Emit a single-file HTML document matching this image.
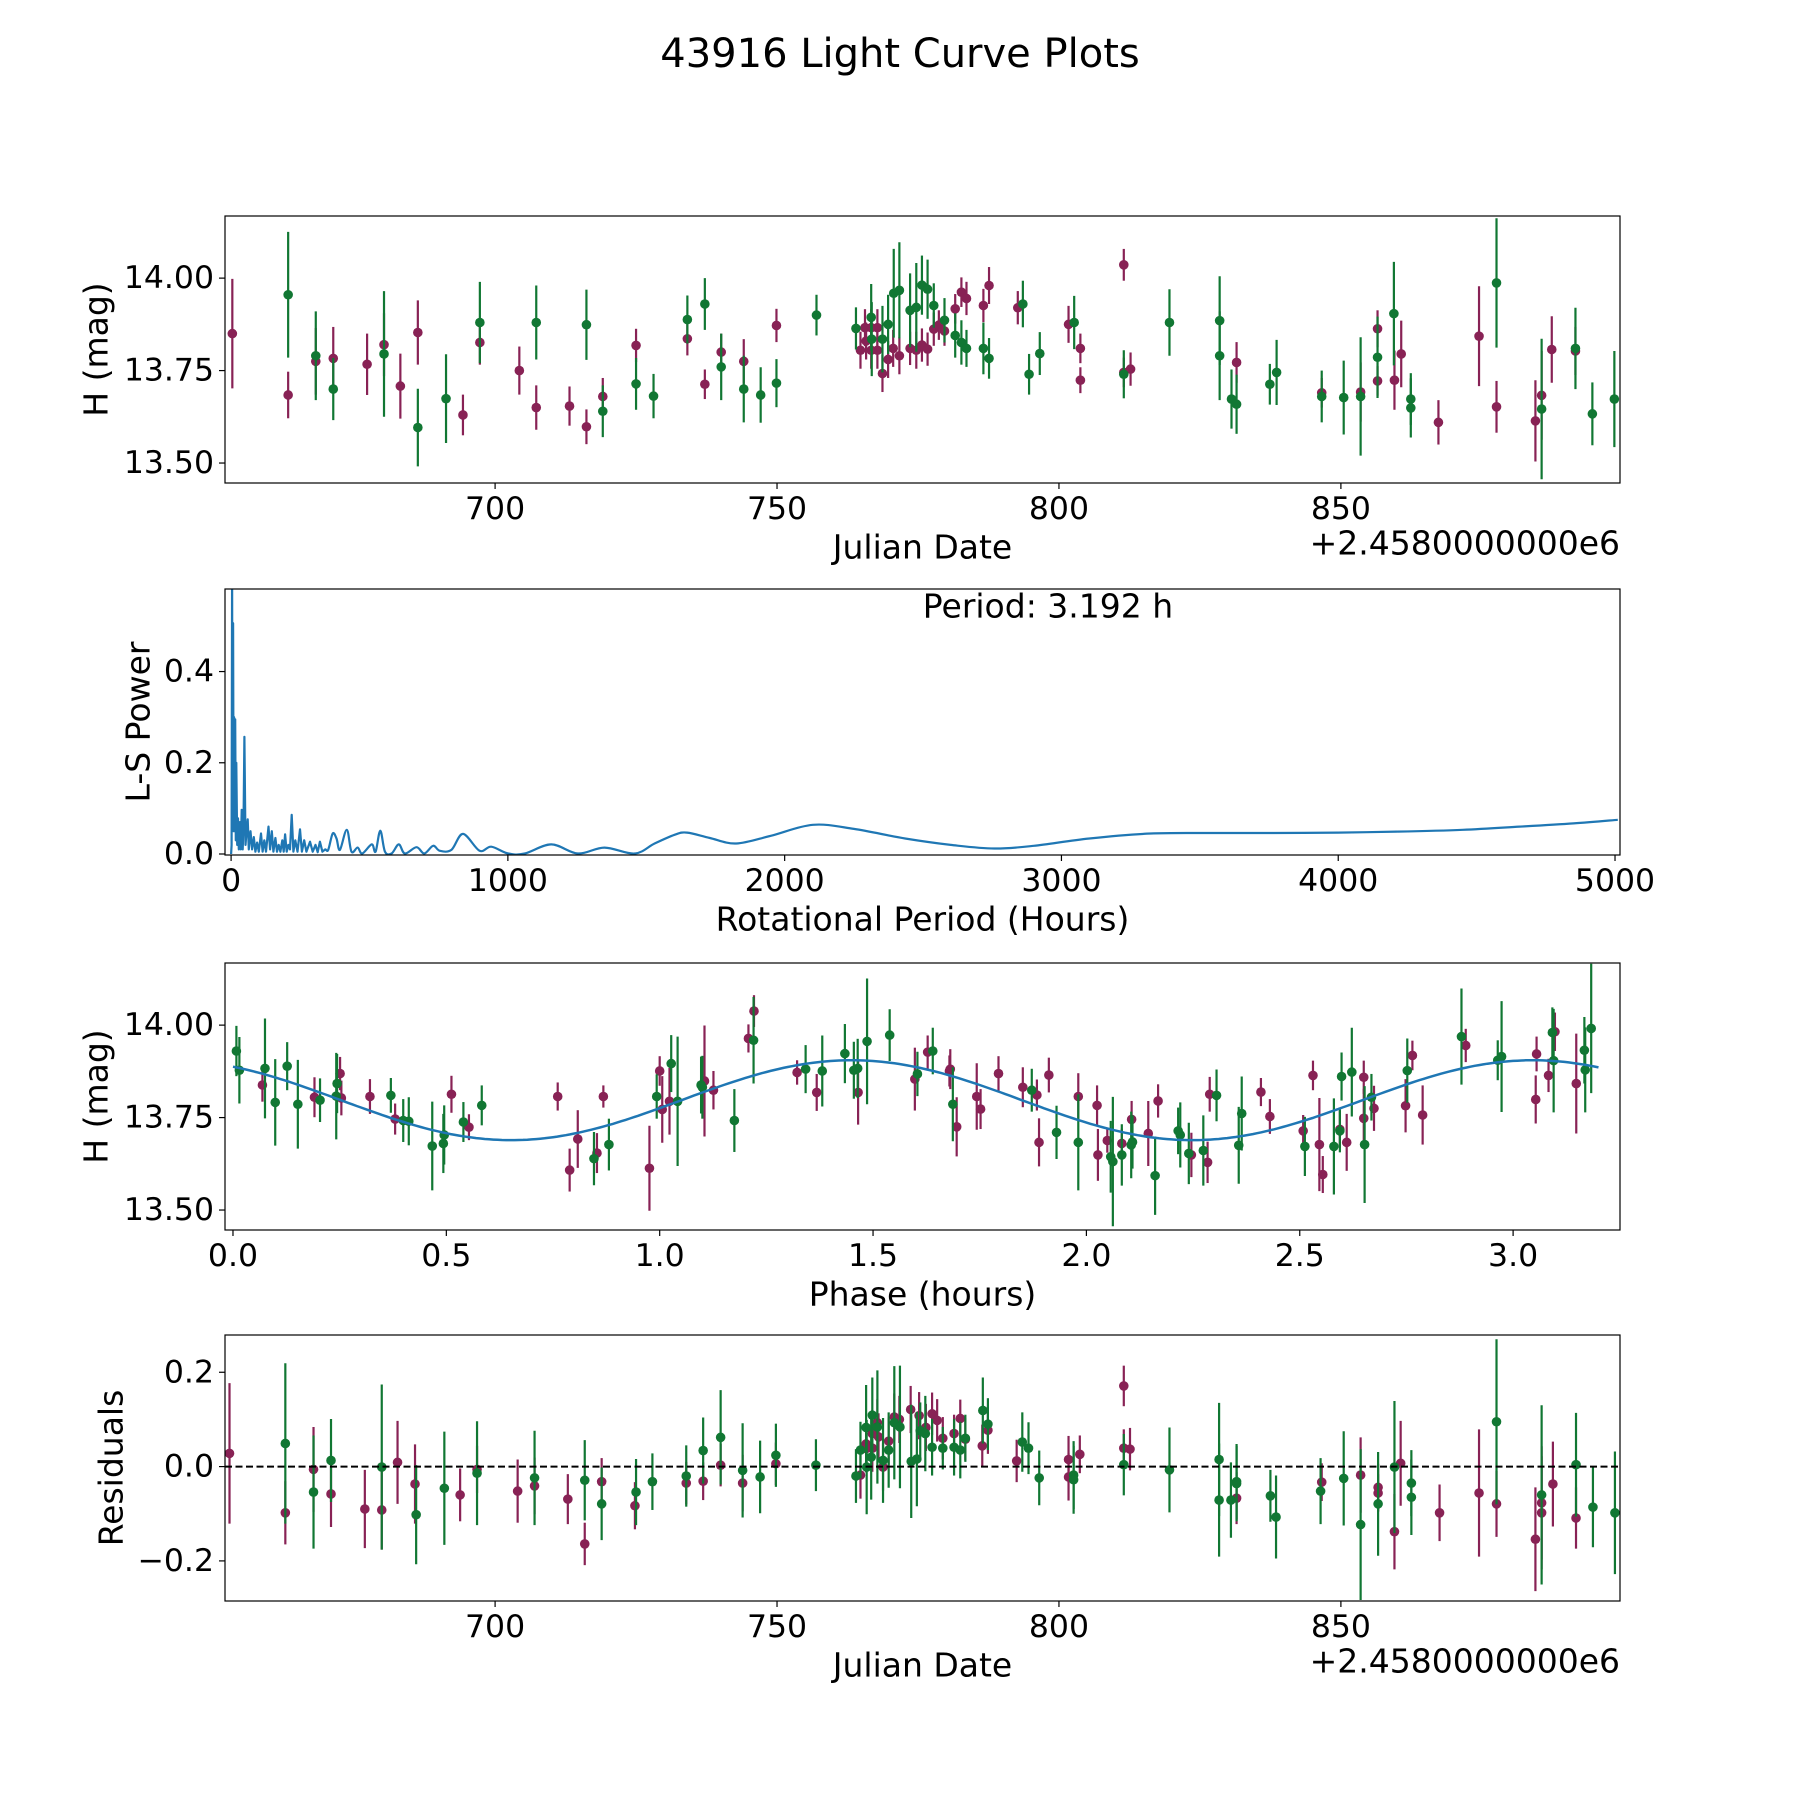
<!DOCTYPE html>
<html><head><meta charset="utf-8"><title>43916 Light Curve Plots</title>
<style>html,body{margin:0;padding:0;background:#fff}svg{display:block}text{font-family:"DejaVu Sans","Liberation Sans",sans-serif;fill:#000}</style>
</head><body>
<svg id="fig" width="1800" height="1800" viewBox="0 0 1800 1800" xmlns="http://www.w3.org/2000/svg">
<rect width="1800" height="1800" fill="#fff"/>
<text x="900" y="54" font-size="40" text-anchor="middle" dominant-baseline="central">43916 Light Curve Plots</text>
</svg>
<script>
// ---- Panel 1: light curve (date, mag, err) ----
const lcGreenDate=[663.3,668.2,671.3,680.3,686.3,691.3,697.3,707.3,716.2,719.1,725.0,728.1,734.1,737.2,740.1,744.1,747.1,749.9,757.0,764.0,766.7,766.8,768.7,769.7,770.7,771.7,773.6,774.7,775.7,776.7,777.8,779.7,781.6,782.7,783.6,786.6,787.6,793.6,794.7,796.6,802.7,811.5,819.6,828.5,828.5,830.6,831.5,837.4,838.6,846.6,850.5,853.5,856.5,859.4,862.4,862.4,877.6,885.6,891.6,894.6,898.5];
const lcGreenMag=[13.955,13.79,13.70,13.795,13.596,13.674,13.88,13.88,13.874,13.64,13.714,13.681,13.888,13.93,13.76,13.70,13.684,13.716,13.90,13.864,13.894,13.835,13.835,13.875,13.959,13.967,13.913,13.921,13.981,13.97,13.926,13.886,13.845,13.826,13.81,13.81,13.783,13.93,13.74,13.796,13.88,13.74,13.88,13.885,13.79,13.673,13.659,13.713,13.745,13.68,13.677,13.68,13.786,13.904,13.673,13.649,13.987,13.646,13.81,13.633,13.673];
const lcGreenErr=[.17,.12,.084,.17,.105,.12,.11,.1,.095,.07,.07,.06,.065,.07,.09,.09,.075,.065,.055,.057,.09,.1,.09,.08,.12,.13,.1,.12,.08,.08,.06,.06,.06,.06,.05,.07,.055,.063,.055,.058,.072,.065,.09,.12,.12,.08,.08,.055,.088,.07,.1,.16,.11,.14,.07,.08,.175,.19,.11,.085,.13];
const lcPurpleDate=[653.4,663.3,668.2,671.3,677.3,680.3,683.2,686.3,694.3,697.3,704.3,707.3,713.2,716.2,719.1,725.0,734.1,737.2,740.1,744.1,749.9,764.8,765.6,765.8,766.7,766.7,767.8,767.8,768.7,769.7,770.6,771.7,773.6,774.7,775.7,776.7,777.8,778.7,779.7,781.6,782.7,783.6,786.6,787.6,792.7,801.7,803.8,803.8,811.5,811.5,812.7,831.5,846.6,853.5,856.5,856.5,859.5,860.7,867.3,874.5,877.6,884.5,885.6,887.4,891.6];
const lcPurpleMag=[13.85,13.684,13.775,13.783,13.767,13.82,13.708,13.853,13.63,13.826,13.75,13.65,13.654,13.598,13.68,13.818,13.836,13.713,13.80,13.775,13.872,13.805,13.866,13.83,13.866,13.805,13.866,13.805,13.742,13.78,13.81,13.79,13.81,13.805,13.819,13.808,13.862,13.873,13.857,13.917,13.962,13.945,13.926,13.98,13.92,13.875,13.81,13.724,14.036,13.745,13.754,13.772,13.69,13.692,13.863,13.722,13.724,13.795,13.61,13.843,13.652,13.614,13.683,13.807,13.803];
const lcPurpleErr=[.148,.063,.09,.085,.083,.085,.088,.087,.055,.06,.065,.06,.053,.047,.05,.045,.045,.04,.05,.06,.045,.05,.05,.05,.05,.05,.05,.05,.05,.05,.05,.05,.045,.05,.045,.045,.045,.04,.04,.04,.04,.045,.045,.05,.045,.05,.04,.035,.043,.04,.045,.055,.04,.08,.05,.04,.08,.09,.06,.135,.07,.11,.12,.09,.065];
const lcXTicks=[700,750,800,850];
const magTicks=[13.5,13.75,14.0];
const magTickLabels=["13.50","13.75","14.00"];

// ---- Panel 2: periodogram ----
const lsPeriod=[0,2,3.6,5,7.2,9,11,13,15,17,19,22,25,28,32,35,38.5,42,45,48,52,56,60,64,70,76,82,88,94,100,108,114,120,126,135,141,147,153,160,166,172,178,185,190,195,201,207,213,219,225,232,240,249,256,264,272,285,295,305,313,321,330,340,351,367,381,393,418,435,457,474,508,522,539,556,580,606,628,670,698,730,754,796,838,898,940,1001,1061,1157,1253,1349,1458,1530,1602,1647,1730,1825,1950,2102,2250,2435,2600,2757,2900,3101,3323,3550,3767,4000,4211,4450,4655,4850,5010];
const lsPower=[0.0,0.02,0.62,0.1,0.506,0.05,0.3,0.05,0.295,0.03,0.2,0.02,0.078,0.01,0.07,0.01,0.097,0.01,0.06,0.257,0.02,0.05,0.076,0.01,0.05,0.01,0.037,0.005,0.025,0.005,0.045,0.005,0.03,0.005,0.06,0.01,0.05,0.005,0.035,0.005,0.02,0.005,0.03,0.005,0.043,0.005,0.02,0.01,0.086,0.005,0.03,0.005,0.054,0.005,0.03,0.005,0.027,0.005,0.02,0.004,0.027,0.005,0.01,0.009,0.045,0.034,0.009,0.053,0.005,0.014,0.001,0.021,0.005,0.051,0.005,0.001,0.021,0.001,0.015,0.001,0.018,0.007,0.009,0.044,0.007,0.016,0.001,0.001,0.021,0.001,0.014,0.001,0.023,0.042,0.047,0.035,0.023,0.04,0.064,0.055,0.034,0.02,0.012,0.018,0.034,0.045,0.046,0.046,0.047,0.049,0.053,0.06,0.067,0.075];
const lsXTicks=[0,1000,2000,3000,4000,5000];
const lsYTicks=[0.0,0.2,0.4];
const lsYTickLabels=["0.0","0.2","0.4"];
const periodText="Period: 3.192 h";

// ---- Panel 3: phased curve ----
const phGreenPhase=[0.008,0.015,0.075,0.099,0.127,0.152,0.204,0.242,0.244,0.37,0.399,0.412,0.467,0.493,0.495,0.54,0.583,0.846,0.881,0.993,1.027,1.042,1.097,1.1,1.175,1.22,1.342,1.381,1.434,1.455,1.464,1.486,1.539,1.604,1.64,1.687,1.872,1.93,1.981,2.057,2.062,2.083,2.105,2.108,2.161,2.215,2.22,2.24,2.274,2.305,2.357,2.364,2.512,2.58,2.594,2.598,2.622,2.652,2.668,2.752,2.879,2.964,2.973,3.092,3.095,3.167,3.169,3.183];
const phGreenMag=[13.930,13.878,13.883,13.791,13.889,13.786,13.797,13.808,13.842,13.81,13.742,13.740,13.673,13.680,13.703,13.738,13.783,13.639,13.677,13.807,13.896,13.794,13.838,13.832,13.742,13.959,13.881,13.876,13.923,13.878,13.883,13.956,13.973,13.868,13.930,13.786,13.824,13.71,13.683,13.644,13.631,13.649,13.676,13.684,13.593,13.714,13.703,13.653,13.661,13.81,13.675,13.761,13.672,13.672,13.714,13.861,13.873,13.677,13.805,13.877,13.969,13.905,13.915,13.98,13.904,13.932,13.879,13.991];
const phGreenErr=[.068,.09,.135,.117,.065,.12,.059,.117,.08,.047,.058,.065,.12,.08,.08,.054,.054,.072,.07,.06,.077,.175,.077,.085,.085,.117,.065,.096,.08,.077,.08,.17,.07,.06,.063,.1,.058,.072,.13,.097,.175,.083,.09,.072,.106,.063,.088,.083,.095,.07,.104,.1,.08,.13,.058,.065,.12,.158,.063,.087,.13,.054,.15,.068,.14,.09,.115,.175];
const phPurplePhase=[0.069,0.191,0.251,0.254,0.321,0.38,0.512,0.553,0.761,0.789,0.808,0.853,0.868,0.976,1.0,1.006,1.023,1.105,1.126,1.208,1.221,1.322,1.368,1.465,1.598,1.628,1.679,1.681,1.696,1.743,1.752,1.794,1.851,1.884,1.889,1.912,1.981,2.025,2.027,2.049,2.083,2.106,2.145,2.168,2.246,2.284,2.289,2.409,2.43,2.508,2.531,2.546,2.554,2.594,2.61,2.65,2.65,2.674,2.748,2.764,2.788,2.889,3.053,3.055,3.083,3.098,3.148];
const phPurpleMag=[13.838,13.805,13.869,13.803,13.807,13.746,13.813,13.724,13.807,13.608,13.692,13.654,13.807,13.613,13.876,13.772,13.794,13.849,13.824,13.964,14.038,13.872,13.818,13.818,13.854,13.927,13.876,13.881,13.725,13.807,13.773,13.869,13.832,13.811,13.683,13.865,13.807,13.783,13.649,13.688,13.680,13.745,13.707,13.795,13.649,13.629,13.813,13.819,13.753,13.714,13.864,13.677,13.596,13.718,13.683,13.859,13.748,13.775,13.782,13.918,13.757,13.945,13.799,13.922,13.864,13.982,13.842];
const phPurpleErr=[.045,.054,.045,.047,.047,.042,.05,.035,.038,.058,.078,.054,.03,.115,.04,.09,.09,.15,.052,.038,.043,.033,.05,.087,.085,.045,.042,.054,.08,.09,.054,.047,.054,.042,.065,.047,.063,.054,.07,.033,.04,.05,.088,.045,.06,.056,.047,.038,.047,.043,.04,.126,.05,.05,.077,.045,.08,.061,.072,.04,.08,.045,.065,.047,.045,.052,.135];
const modelMean=[13.797];
const modelAmp=[0.108];
const modelPeakPhase=[1.45];
const modelHalfPeriod=[1.596];
const phXTicks=[0.0,0.5,1.0,1.5,2.0,2.5,3.0];
const phXTickLabels=["0.0","0.5","1.0","1.5","2.0","2.5","3.0"];

// ---- Panel 4: residuals ----
const rsGreenDate=[662.8,667.8,670.9,679.9,686.0,691.0,696.8,707.0,715.9,718.9,725.0,727.9,733.9,736.9,740.0,743.9,747.0,749.8,756.9,764.0,764.8,765.8,765.9,766.7,766.9,767.8,768.8,769.8,770.8,771.8,773.8,774.8,775.4,776.3,777.5,779.4,781.4,782.5,783.4,786.5,787.4,793.5,794.6,796.5,802.6,802.6,811.5,819.6,828.4,828.4,830.5,831.5,831.5,837.5,838.5,846.4,850.5,853.5,856.6,859.5,862.5,862.5,877.6,885.6,891.7,894.7,898.6];
const rsGreenRes=[.049,-.054,.013,-.001,-.102,-.046,-.014,-.024,-.029,-.079,-.054,-.032,-.02,.034,.062,-.008,-.022,.024,.003,-.02,.035,.083,-.001,.02,.109,.084,.013,.035,.093,.084,.011,.016,.076,.07,.041,.039,.041,.035,.06,.119,.09,.052,.039,-.024,-.018,-.028,.004,-.007,.015,-.071,-.071,-.032,-.036,-.062,-.107,-.052,-.025,-.123,-.079,-.001,-.035,-.065,.095,-.06,.004,-.086,-.098];
const rsGreenErr=[.17,.12,.088,.175,.105,.12,.11,.1,.085,.077,.07,.06,.065,.07,.1,.1,.077,.067,.055,.057,.06,.09,.1,.09,.08,.12,.09,.08,.12,.13,.12,.1,.06,.08,.06,.045,.06,.06,.05,.07,.055,.063,.055,.058,.072,.072,.065,.09,.12,.12,.08,.08,.08,.055,.088,.07,.1,.16,.11,.14,.07,.08,.175,.19,.11,.085,.13];
const rsPurpleDate=[652.9,662.8,667.8,670.9,676.9,679.9,682.7,685.8,693.8,696.8,704.0,707.0,712.9,715.9,718.9,724.8,733.9,736.9,740.0,743.9,749.8,764.8,765.8,765.8,766.9,766.9,767.8,768.0,768.8,769.8,770.8,771.7,773.7,775.2,776.4,777.5,778.4,779.4,781.4,782.5,783.4,786.4,787.4,792.5,801.7,801.7,803.7,811.5,811.5,812.6,831.5,846.6,853.5,856.6,856.6,859.5,860.6,867.5,874.5,877.6,884.5,885.6,885.6,887.6,891.7];
const rsPurpleRes=[.028,-.098,-.006,-.058,-.09,-.092,.009,-.037,-.06,-.006,-.052,-.041,-.069,-.164,-.032,-.083,-.035,-.031,.003,-.035,.006,-.018,.048,.038,.07,.039,.093,.063,-.001,.054,.105,.1,.121,.108,.083,.112,.098,.06,.07,.102,.058,.044,.077,.012,.015,-.022,.026,.171,.039,.037,-.067,-.033,-.018,-.044,-.056,-.138,.007,-.098,-.056,-.079,-.154,-.077,-.098,-.037,-.109];
const rsPurpleErr=[.149,.067,.09,.07,.083,.084,.088,.084,.056,.05,.067,.06,.053,.045,.05,.05,.045,.04,.045,.06,.045,.05,.05,.05,.05,.05,.05,.05,.05,.05,.05,.05,.05,.05,.05,.045,.045,.045,.04,.04,.045,.045,.05,.045,.05,.05,.04,.043,.04,.045,.055,.04,.08,.05,.04,.08,.09,.06,.135,.07,.11,.12,.12,.09,.065];
const rsYTicks=[-0.2,0.0,0.2];
const rsYTickLabels=["\u22120.2","0.0","0.2"];

const NS="http://www.w3.org/2000/svg";
const svg=document.getElementById('fig');
const GREEN="#117733",PURPLE="#882255",BLUE="#1f77b4";
const TICKFS=31.5,LABELFS=33;
function mk(tag,attrs,parent){const e=document.createElementNS(NS,tag);for(const k in attrs)e.setAttribute(k,attrs[k]);(parent||svg).appendChild(e);return e;}
function txt(s,attrs,parent){const t=mk('text',attrs,parent);t.textContent=s;return t;}
function axis(box,xmin,xmax,ymin,ymax){
  return {box:box,
    x:v=>box.l+(v-xmin)/(xmax-xmin)*(box.r-box.l),
    y:v=>box.b-(v-ymin)/(ymax-ymin)*(box.b-box.t)};
}
function frame(ax,name,xt,xtl,yt,ytl,xlabel,ylabel,ylabelX){
  const b=ax.box;
  const g=mk('g',{});
  
  
  xt.forEach((v,i)=>{const X=ax.x(v);
    const tk=mk('line',{x1:X,x2:X,y1:b.b,y2:b.b+6,stroke:'#000','stroke-width':1.2},g);
    
    
    const t=txt(xtl[i],{x:X,y:b.b+26,'font-size':TICKFS,'text-anchor':'middle','dominant-baseline':'central'},g);
    
    });
  yt.forEach((v,i)=>{const Y=ax.y(v);
    const tk=mk('line',{x1:b.l-6,x2:b.l,y1:Y,y2:Y,stroke:'#000','stroke-width':1.2},g);
    
    
    const t=txt(ytl[i],{x:b.l-11,y:Y,'font-size':TICKFS,'text-anchor':'end','dominant-baseline':'central'},g);
    
    });
  const xl=txt(xlabel,{x:(b.l+b.r)/2,y:b.b+64,'font-size':LABELFS,'text-anchor':'middle','dominant-baseline':'central'},g);
  
  
  const cy=(b.t+b.b)/2;
  const yl=txt(ylabel,{x:ylabelX,y:cy,'font-size':LABELFS,'text-anchor':'middle','dominant-baseline':'central',transform:'rotate(-90 '+ylabelX+' '+cy+')'},g);
  
  
  const r=mk('rect',{x:b.l,y:b.t,width:b.r-b.l,height:b.b-b.t,fill:'none',stroke:'#000','stroke-width':1.2},g);
  
  
  return g;
}
function clip(id,b){const c=mk('clipPath',{id:id});mk('rect',{x:b.l,y:b.t,width:b.r-b.l,height:b.b-b.t},c);}
function errpts(ax,g,xs,ys,es,color,name){
  for(let i=0;i<xs.length;i++){
    const X=ax.x(xs[i]),Y=ax.y(ys[i]);
    const ln=mk('line',{x1:X,x2:X,y1:ax.y(ys[i]-es[i]),y2:ax.y(ys[i]+es[i]),stroke:color,'stroke-width':2.2},g);
    
    
    const c=mk('circle',{cx:X,cy:Y,r:4.8,fill:color},g);
    
    
  }
}
const L=225,R=1620;
// Panel 1
const ax1=axis({l:L,r:R,t:216,b:483},652.1,899.5,13.446,14.168);
clip('c1',ax1.box);
const g1=mk('g',{'clip-path':'url(#c1)'});


errpts(ax1,g1,lcPurpleDate,lcPurpleMag,lcPurpleErr,PURPLE,'purple-filter');
errpts(ax1,g1,lcGreenDate,lcGreenMag,lcGreenErr,GREEN,'green-filter');
frame(ax1,'light-curve-panel',lcXTicks,lcXTicks.map(String),magTicks,magTickLabels,'Julian Date','H (mag)',96);
const off1=txt('+2.4580000000e6',{x:R,y:543,'font-size':LABELFS,'text-anchor':'end','dominant-baseline':'central'});


// Panel 2
const ax2=axis({l:L,r:R,t:589,b:855},-22,5018,-0.0022,0.581);
clip('c2',ax2.box);
const g2=mk('g',{'clip-path':'url(#c2)'});


// polyline for noisy part, Catmull-Rom smoothing for long-period part
const P=lsPeriod.map((p,i)=>[ax2.x(p),ax2.y(lsPower[i])]);
let d='M'+P[0][0].toFixed(1)+' '+P[0][1].toFixed(1);
for(let i=1;i<P.length;i++){
  if(lsPeriod[i]<=340){d+='L'+P[i][0].toFixed(1)+' '+P[i][1].toFixed(1);continue;}
  const p0=P[Math.max(i-2,0)],p1=P[i-1],p2=P[i],p3=P[Math.min(i+1,P.length-1)];
  const c1x=p1[0]+(p2[0]-p0[0])/6,c1y=p1[1]+(p2[1]-p0[1])/6;
  const c2x=p2[0]-(p3[0]-p1[0])/6,c2y=p2[1]-(p3[1]-p1[1])/6;
  d+='C'+c1x.toFixed(1)+' '+c1y.toFixed(1)+' '+c2x.toFixed(1)+' '+c2y.toFixed(1)+' '+p2[0].toFixed(1)+' '+p2[1].toFixed(1);
}
const pl=mk('path',{d:d,fill:'none',stroke:BLUE,'stroke-width':2.2,'stroke-linejoin':'round'},g2);


frame(ax2,'periodogram-panel',lsXTicks,lsXTicks.map(String),lsYTicks,lsYTickLabels,'Rotational Period (Hours)','L-S Power',138);
const pt=txt(periodText,{x:1048,y:606,'font-size':LABELFS,'text-anchor':'middle','dominant-baseline':'central'});


// Panel 3
const ax3=axis({l:L,r:R,t:963,b:1230},-0.0187,3.2505,13.446,14.168);
clip('c3',ax3.box);
const g3=mk('g',{'clip-path':'url(#c3)'});


errpts(ax3,g3,phPurplePhase,phPurpleMag,phPurpleErr,PURPLE,'purple-filter');
errpts(ax3,g3,phGreenPhase,phGreenMag,phGreenErr,GREEN,'green-filter');
let dm='';for(let i=0;i<=320;i++){const p=i*0.01;const m=modelMean[0]+modelAmp[0]*Math.cos(2*Math.PI*(p-modelPeakPhase[0])/modelHalfPeriod[0]);dm+=(i?'L':'M')+ax3.x(p).toFixed(1)+' '+ax3.y(m).toFixed(1);}
const ml=mk('path',{d:dm,fill:'none',stroke:BLUE,'stroke-width':2.5},g3);


frame(ax3,'phased-panel',phXTicks,phXTickLabels,magTicks,magTickLabels,'Phase (hours)','H (mag)',96);
// Panel 4
const ax4=axis({l:L,r:R,t:1335,b:1601},652.1,899.5,-0.285,0.279);
clip('c4',ax4.box);
const g4=mk('g',{'clip-path':'url(#c4)'});


errpts(ax4,g4,rsPurpleDate,rsPurpleRes,rsPurpleErr,PURPLE,'purple-filter');
errpts(ax4,g4,rsGreenDate,rsGreenRes,rsGreenErr,GREEN,'green-filter');
const zl=mk('line',{x1:L,x2:R,y1:ax4.y(0),y2:ax4.y(0),stroke:'#000','stroke-width':2,'stroke-dasharray':'7,3.5'},g4);


frame(ax4,'residuals-panel',lcXTicks,lcXTicks.map(String),rsYTicks,rsYTickLabels,'Julian Date','Residuals',111);
const off4=txt('+2.4580000000e6',{x:R,y:1661,'font-size':LABELFS,'text-anchor':'end','dominant-baseline':'central'});


</script>
</body></html>
